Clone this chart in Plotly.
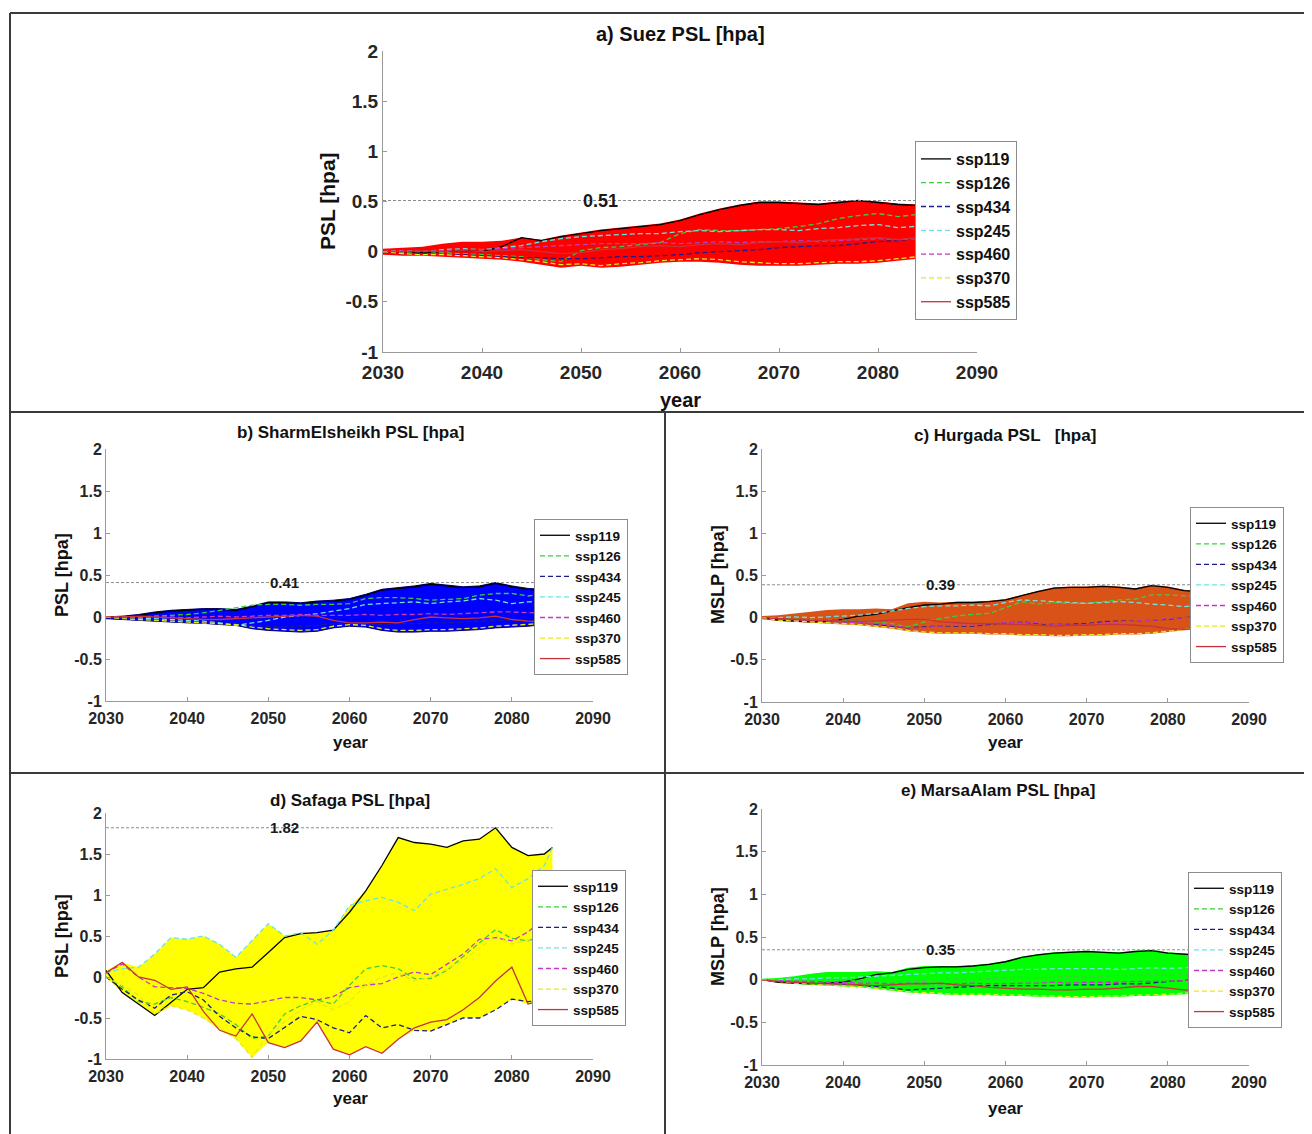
import plotly.graph_objects as go

# ---------------- data ----------------
years = [2030, 2032, 2034, 2036, 2038, 2040, 2042, 2044, 2046, 2048, 2050, 2052, 2054, 2056,
         2058, 2060, 2062, 2064, 2066, 2068, 2070, 2072, 2074, 2076, 2078, 2080, 2082, 2084, 2085]
scenarios = ["ssp119", "ssp126", "ssp434", "ssp245", "ssp460", "ssp370", "ssp585"]
x_ticks = [2030, 2040, 2050, 2060, 2070, 2080, 2090]
y_ticks = [-1, -0.5, 0, 0.5, 1, 1.5, 2]
y_tick_labels = ["-1", "-0.5", "0", "0.5", "1", "1.5", "2"]

# a) Suez
suez_ssp119 = [0.00, 0.00, -0.01, 0.00, 0.01, 0.00, 0.05, 0.14, 0.11, 0.15, 0.18, 0.21, 0.23, 0.25, 0.27, 0.31, 0.37, 0.42, 0.46, 0.49, 0.49, 0.48, 0.47, 0.49, 0.51, 0.49, 0.47, 0.46, 0.44]
suez_ssp126 = [0.00, -0.01, -0.02, -0.01, -0.02, -0.03, -0.04, -0.05, -0.08, -0.10, 0.01, 0.04, 0.05, 0.07, 0.09, 0.18, 0.22, 0.21, 0.21, 0.22, 0.23, 0.25, 0.28, 0.33, 0.36, 0.38, 0.35, 0.37, 0.39]
suez_ssp434 = [0.00, -0.02, -0.02, -0.03, -0.03, -0.04, -0.05, -0.06, -0.06, -0.07, -0.07, -0.06, -0.05, -0.05, -0.04, -0.03, -0.01, 0.00, 0.01, 0.02, 0.04, 0.05, 0.06, 0.06, 0.08, 0.10, 0.11, 0.13, 0.15]
suez_ssp245 = [0.00, 0.01, 0.00, 0.02, 0.03, 0.02, 0.04, 0.06, 0.10, 0.13, 0.15, 0.16, 0.17, 0.18, 0.18, 0.20, 0.21, 0.20, 0.21, 0.22, 0.22, 0.21, 0.23, 0.24, 0.26, 0.27, 0.24, 0.25, 0.26]
suez_ssp460 = [0.00, 0.01, 0.00, 0.01, 0.02, 0.02, 0.03, 0.04, 0.05, 0.06, 0.07, 0.08, 0.08, 0.08, 0.09, 0.08, 0.09, 0.10, 0.09, 0.10, 0.10, 0.11, 0.10, 0.11, 0.12, 0.13, 0.12, 0.13, 0.13]
suez_ssp370 = [0.00, -0.02, -0.03, -0.03, -0.04, -0.05, -0.06, -0.08, -0.10, -0.13, -0.12, -0.14, -0.12, -0.11, -0.09, -0.08, -0.07, -0.08, -0.10, -0.11, -0.12, -0.12, -0.11, -0.10, -0.10, -0.09, -0.07, -0.05, -0.02]
suez_ssp585 = [0.00, 0.00, 0.01, 0.00, 0.01, 0.00, 0.01, 0.02, 0.00, -0.02, -0.01, 0.02, 0.03, 0.05, 0.06, 0.05, 0.07, 0.08, 0.07, 0.09, 0.10, 0.09, 0.11, 0.12, 0.13, 0.14, 0.12, 0.14, 0.15]
suez_env_hi = [0.03, 0.04, 0.05, 0.08, 0.10, 0.10, 0.11, 0.14, 0.12, 0.16, 0.19, 0.22, 0.24, 0.26, 0.28, 0.32, 0.38, 0.43, 0.47, 0.50, 0.50, 0.49, 0.48, 0.50, 0.51, 0.50, 0.48, 0.47, 0.45]
suez_env_lo = [-0.03, -0.04, -0.04, -0.05, -0.06, -0.07, -0.08, -0.10, -0.13, -0.16, -0.14, -0.16, -0.15, -0.13, -0.11, -0.10, -0.10, -0.11, -0.13, -0.14, -0.14, -0.14, -0.13, -0.12, -0.12, -0.11, -0.09, -0.07, -0.03]

# b) SharmElsheikh
sharm_ssp119 = [0.00, 0.00, 0.02, 0.05, 0.07, 0.08, 0.09, 0.09, 0.08, 0.12, 0.17, 0.17, 0.16, 0.18, 0.19, 0.21, 0.26, 0.32, 0.34, 0.36, 0.39, 0.37, 0.35, 0.36, 0.40, 0.36, 0.33, 0.32, 0.33]
sharm_ssp126 = [0.00, 0.01, 0.00, 0.01, 0.02, 0.03, 0.05, 0.08, 0.11, 0.14, 0.15, 0.15, 0.14, 0.15, 0.15, 0.16, 0.22, 0.23, 0.23, 0.22, 0.20, 0.21, 0.22, 0.26, 0.28, 0.28, 0.25, 0.28, 0.30]
sharm_ssp434 = [0.00, -0.01, -0.02, -0.03, -0.04, -0.05, -0.06, -0.07, -0.08, -0.10, -0.11, -0.12, -0.11, -0.10, -0.08, -0.07, -0.08, -0.09, -0.08, -0.08, -0.07, -0.07, -0.06, -0.05, -0.04, -0.04, -0.04, -0.04, -0.03]
sharm_ssp245 = [0.00, 0.00, -0.01, -0.02, -0.03, -0.04, -0.05, -0.07, -0.10, -0.07, -0.04, 0.00, 0.02, 0.04, 0.07, 0.10, 0.15, 0.16, 0.17, 0.18, 0.16, 0.18, 0.19, 0.22, 0.20, 0.16, 0.18, 0.19, 0.19]
sharm_ssp460 = [0.00, 0.00, -0.01, 0.00, 0.00, -0.01, 0.00, 0.01, 0.00, 0.01, 0.02, 0.02, 0.03, 0.02, 0.02, 0.02, 0.03, 0.02, 0.03, 0.03, 0.04, 0.03, 0.04, 0.05, 0.06, 0.06, 0.05, 0.04, 0.04]
sharm_ssp370 = [0.00, -0.02, -0.03, -0.04, -0.05, -0.06, -0.07, -0.08, -0.09, -0.12, -0.14, -0.15, -0.16, -0.15, -0.11, -0.09, -0.10, -0.14, -0.16, -0.16, -0.15, -0.15, -0.14, -0.13, -0.11, -0.10, -0.09, -0.08, -0.07]
sharm_ssp585 = [0.00, 0.00, 0.01, 0.00, -0.01, -0.02, -0.03, -0.03, -0.02, -0.01, 0.00, 0.01, 0.02, 0.01, -0.04, -0.07, -0.07, -0.06, -0.07, -0.03, 0.00, -0.01, -0.02, -0.01, 0.01, -0.03, -0.05, -0.06, -0.06]
sharm_env_hi = [0.00, 0.01, 0.03, 0.06, 0.08, 0.09, 0.10, 0.10, 0.09, 0.13, 0.18, 0.18, 0.17, 0.19, 0.20, 0.22, 0.27, 0.33, 0.35, 0.37, 0.40, 0.38, 0.36, 0.37, 0.41, 0.37, 0.34, 0.33, 0.34]
sharm_env_lo = [-0.02, -0.03, -0.04, -0.05, -0.06, -0.07, -0.075, -0.09, -0.10, -0.14, -0.16, -0.17, -0.18, -0.17, -0.13, -0.11, -0.12, -0.16, -0.18, -0.18, -0.17, -0.17, -0.16, -0.15, -0.13, -0.12, -0.11, -0.09, -0.08]

# c) Hurgada
hurg_ssp119 = [0.00, -0.03, -0.04, -0.05, -0.04, -0.02, 0.02, 0.04, 0.08, 0.12, 0.15, 0.16, 0.18, 0.18, 0.19, 0.21, 0.26, 0.31, 0.35, 0.36, 0.36, 0.37, 0.36, 0.34, 0.38, 0.36, 0.32, 0.31, 0.32]
hurg_ssp126 = [0.00, -0.01, -0.02, -0.02, -0.03, -0.03, -0.04, -0.05, -0.07, -0.11, -0.05, -0.01, 0.02, 0.04, 0.05, 0.12, 0.19, 0.16, 0.18, 0.17, 0.17, 0.19, 0.21, 0.22, 0.27, 0.27, 0.26, 0.25, 0.26]
hurg_ssp434 = [0.00, -0.02, -0.03, -0.04, -0.05, -0.05, -0.06, -0.08, -0.10, -0.12, -0.11, -0.10, -0.10, -0.10, -0.08, -0.06, -0.05, -0.07, -0.08, -0.08, -0.07, -0.05, -0.04, -0.04, -0.03, -0.02, 0.00, 0.02, 0.04]
hurg_ssp245 = [0.00, 0.00, 0.01, 0.00, 0.01, 0.02, 0.03, 0.05, 0.08, 0.11, 0.13, 0.14, 0.14, 0.15, 0.14, 0.18, 0.21, 0.20, 0.19, 0.18, 0.17, 0.18, 0.19, 0.18, 0.16, 0.15, 0.13, 0.15, 0.17]
hurg_ssp460 = [0.00, -0.01, -0.03, -0.04, -0.04, -0.05, -0.06, -0.07, -0.09, -0.12, -0.12, -0.10, -0.09, -0.09, -0.07, -0.06, -0.05, -0.06, -0.08, -0.09, -0.08, -0.06, -0.05, -0.04, -0.03, -0.01, 0.00, 0.02, 0.03]
hurg_ssp370 = [0.00, -0.03, -0.04, -0.05, -0.06, -0.07, -0.08, -0.10, -0.12, -0.15, -0.17, -0.18, -0.18, -0.18, -0.19, -0.19, -0.20, -0.20, -0.21, -0.21, -0.20, -0.20, -0.19, -0.19, -0.18, -0.16, -0.14, -0.13, -0.13]
hurg_ssp585 = [0.00, -0.01, -0.02, -0.03, -0.03, -0.04, -0.04, -0.04, -0.03, -0.02, -0.02, -0.05, -0.06, -0.07, -0.07, -0.08, -0.08, -0.09, -0.10, -0.09, -0.09, -0.08, -0.08, -0.09, -0.10, -0.13, -0.14, -0.13, -0.12]
hurg_env_hi = [0.02, 0.03, 0.05, 0.07, 0.09, 0.10, 0.10, 0.11, 0.10, 0.17, 0.19, 0.18, 0.19, 0.19, 0.20, 0.22, 0.27, 0.32, 0.36, 0.37, 0.37, 0.38, 0.37, 0.35, 0.39, 0.37, 0.33, 0.32, 0.33]
hurg_env_lo = [-0.02, -0.04, -0.05, -0.06, -0.07, -0.08, -0.09, -0.11, -0.13, -0.16, -0.18, -0.19, -0.19, -0.19, -0.20, -0.20, -0.21, -0.21, -0.22, -0.22, -0.21, -0.21, -0.20, -0.20, -0.19, -0.17, -0.15, -0.14, -0.14]

# d) Safaga
saf_ssp119 = [0.08, -0.19, -0.33, -0.47, -0.31, -0.15, -0.13, 0.06, 0.10, 0.12, 0.30, 0.48, 0.53, 0.54, 0.57, 0.79, 1.05, 1.36, 1.70, 1.64, 1.62, 1.58, 1.66, 1.68, 1.82, 1.58, 1.48, 1.50, 1.58]
saf_ssp126 = [0.00, -0.12, -0.30, -0.33, -0.25, -0.30, -0.37, -0.45, -0.58, -0.75, -0.72, -0.45, -0.35, -0.28, -0.33, -0.10, 0.10, 0.14, 0.10, -0.02, -0.02, 0.08, 0.25, 0.42, 0.58, 0.47, 0.44, 0.52, 0.62]
saf_ssp434 = [0.00, -0.15, -0.28, -0.38, -0.22, -0.18, -0.28, -0.48, -0.62, -0.73, -0.75, -0.62, -0.48, -0.52, -0.62, -0.68, -0.47, -0.62, -0.58, -0.65, -0.66, -0.58, -0.50, -0.50, -0.40, -0.27, -0.30, -0.29, -0.27]
saf_ssp245 = [0.05, 0.10, 0.12, 0.28, 0.48, 0.46, 0.50, 0.40, 0.24, 0.44, 0.65, 0.50, 0.54, 0.40, 0.57, 0.87, 0.93, 0.97, 0.91, 0.81, 1.01, 1.07, 1.13, 1.20, 1.32, 1.09, 1.20, 1.36, 1.58]
saf_ssp460 = [0.05, 0.16, 0.00, -0.12, -0.13, -0.14, -0.20, -0.28, -0.32, -0.33, -0.29, -0.25, -0.25, -0.28, -0.24, -0.13, -0.10, -0.08, 0.00, 0.06, 0.03, 0.16, 0.28, 0.46, 0.48, 0.44, 0.55, 0.72, 0.65]
saf_ssp370 = [0.00, -0.10, -0.22, -0.45, -0.35, -0.40, -0.50, -0.62, -0.75, -0.98, -0.70, -0.55, -0.40, -0.30, -0.40, -0.30, -0.10, 0.00, 0.05, -0.05, 0.00, 0.10, 0.20, 0.35, 0.50, 0.40, 0.45, 0.50, 0.55]
saf_ssp585 = [0.05, 0.18, 0.00, -0.04, -0.15, -0.12, -0.42, -0.65, -0.72, -0.45, -0.80, -0.86, -0.78, -0.55, -0.88, -0.95, -0.85, -0.93, -0.76, -0.62, -0.55, -0.52, -0.40, -0.25, -0.05, 0.12, -0.33, -0.28, -0.27]
saf_env_hi = None   # envelope = spread of the scenarios
saf_env_lo = None

# e) MarsaAlam
mars_ssp119 = [0.00, -0.03, -0.04, -0.05, -0.04, -0.03, 0.01, 0.06, 0.08, 0.12, 0.14, 0.15, 0.15, 0.16, 0.18, 0.21, 0.26, 0.29, 0.31, 0.32, 0.33, 0.32, 0.31, 0.33, 0.34, 0.31, 0.30, 0.29, 0.28]
mars_ssp126 = [0.00, -0.01, -0.01, 0.00, 0.01, 0.00, -0.01, -0.02, -0.03, -0.02, -0.01, 0.00, 0.01, 0.00, 0.01, 0.02, 0.03, 0.02, 0.03, 0.04, 0.03, 0.04, 0.05, 0.05, 0.06, 0.05, 0.06, 0.06, 0.07]
mars_ssp434 = [0.00, -0.02, -0.03, -0.04, -0.05, -0.06, -0.07, -0.08, -0.10, -0.12, -0.11, -0.10, -0.09, -0.08, -0.07, -0.07, -0.07, -0.07, -0.07, -0.06, -0.06, -0.06, -0.05, -0.05, -0.04, -0.02, -0.01, 0.01, 0.03]
mars_ssp245 = [0.00, 0.00, 0.01, 0.01, 0.02, 0.02, 0.03, 0.04, 0.05, 0.06, 0.07, 0.08, 0.08, 0.09, 0.10, 0.11, 0.12, 0.12, 0.13, 0.13, 0.13, 0.13, 0.12, 0.13, 0.14, 0.13, 0.14, 0.14, 0.15]
mars_ssp460 = [0.00, -0.01, -0.02, -0.02, -0.03, -0.03, -0.04, -0.04, -0.05, -0.04, -0.04, -0.05, -0.05, -0.04, -0.05, -0.05, -0.04, -0.04, -0.03, -0.04, -0.03, -0.03, -0.03, -0.02, -0.02, -0.02, -0.01, 0.00, 0.01]
mars_ssp370 = [0.00, -0.02, -0.04, -0.05, -0.06, -0.07, -0.08, -0.10, -0.12, -0.14, -0.15, -0.16, -0.17, -0.17, -0.17, -0.18, -0.18, -0.19, -0.19, -0.20, -0.20, -0.19, -0.19, -0.18, -0.18, -0.17, -0.16, -0.15, -0.14]
mars_ssp585 = [0.00, -0.02, -0.03, -0.04, -0.05, -0.05, -0.06, -0.07, -0.06, -0.05, -0.05, -0.04, -0.06, -0.07, -0.09, -0.10, -0.11, -0.11, -0.12, -0.12, -0.11, -0.11, -0.10, -0.08, -0.08, -0.10, -0.12, -0.14, -0.14]
mars_env_hi = [0.01, 0.02, 0.04, 0.07, 0.09, 0.09, 0.09, 0.10, 0.09, 0.14, 0.16, 0.16, 0.16, 0.17, 0.19, 0.22, 0.27, 0.30, 0.32, 0.33, 0.34, 0.33, 0.32, 0.34, 0.35, 0.32, 0.31, 0.30, 0.29]
mars_env_lo = [-0.01, -0.03, -0.05, -0.06, -0.07, -0.08, -0.09, -0.11, -0.13, -0.15, -0.16, -0.17, -0.18, -0.18, -0.18, -0.19, -0.19, -0.20, -0.20, -0.21, -0.21, -0.20, -0.20, -0.19, -0.19, -0.18, -0.17, -0.16, -0.15]

# ---------------- styling ----------------
W, H = 1312, 1134
OFF = 8   # page body margin of the html page
FONT = "Liberation Sans, Arial, sans-serif"
TXT = "#262626"
AXC = "#9a9a9a"

line_styles = {
    "ssp119": dict(color="#000000", dash="solid"),
    "ssp126": dict(color="#3ccf3c", dash="5px,3px"),
    "ssp434": dict(color="#1c1c8c", dash="5px,3px"),
    "ssp245": dict(color="#6fe3e3", dash="5px,3px"),
    "ssp460": dict(color="#c23bc2", dash="5px,3px"),
    "ssp370": dict(color="#e8e820", dash="5px,3px"),
    "ssp585": dict(color="#c8323c", dash="solid"),
}

panels = [
    dict(title="a) Suez PSL [hpa]", ylab="PSL [hpa]",
         series=[suez_ssp119, suez_ssp126, suez_ssp434, suez_ssp245, suez_ssp460, suez_ssp370, suez_ssp585],
         hi=suez_env_hi, lo=suez_env_lo, fill="#ff0000", edge=None,
         px=(383, 977), py=(51, 352), big=True,
         tpos=(680, 34), ylpos=(328, 201), xlpos=(680, 400), leg=(1017, 141)),
    dict(title="b) SharmElsheikh PSL [hpa]", ylab="PSL [hpa]",
         series=[sharm_ssp119, sharm_ssp126, sharm_ssp434, sharm_ssp245, sharm_ssp460, sharm_ssp370, sharm_ssp585],
         hi=sharm_env_hi, lo=sharm_env_lo, fill="#0000ff", edge="#00007a",
         px=(106, 593), py=(449, 701), big=False,
         tpos=(350, 433), ylpos=(62, 575), xlpos=(350, 742), leg=(628, 519)),
    dict(title="c) Hurgada PSL\u00a0\u00a0\u00a0[hpa]", ylab="MSLP [hpa]",
         series=[hurg_ssp119, hurg_ssp126, hurg_ssp434, hurg_ssp245, hurg_ssp460, hurg_ssp370, hurg_ssp585],
         hi=hurg_env_hi, lo=hurg_env_lo, fill="#d95319", edge=None,
         px=(762, 1249), py=(449, 702), big=False,
         tpos=(1005, 435), ylpos=(718, 575), xlpos=(1006, 742), leg=(1284, 507)),
    dict(title="d) Safaga PSL [hpa]", ylab="PSL [hpa]",
         series=[saf_ssp119, saf_ssp126, saf_ssp434, saf_ssp245, saf_ssp460, saf_ssp370, saf_ssp585],
         hi=saf_env_hi, lo=saf_env_lo, fill="#ffff00", edge=None,
         px=(106, 593), py=(813, 1059), big=False,
         tpos=(350, 800), ylpos=(62, 936), xlpos=(350, 1098), leg=(626, 870)),
    dict(title="e) MarsaAlam PSL [hpa]", ylab="MSLP [hpa]",
         series=[mars_ssp119, mars_ssp126, mars_ssp434, mars_ssp245, mars_ssp460, mars_ssp370, mars_ssp585],
         hi=mars_env_hi, lo=mars_env_lo, fill="#00ff00", edge=None,
         px=(762, 1249), py=(809, 1065), big=False,
         tpos=(998, 790), ylpos=(718, 937), xlpos=(1006, 1108), leg=(1282, 872)),
]


def fx(p):
    return (p - OFF) / W


def fy(p):
    return 1 - (p - OFF) / H


fig = go.Figure()
annotations = []
layout_extra = {}

for i, p in enumerate(panels):
    k = "" if i == 0 else str(i + 1)
    xa, ya = "x" + k, "y" + k
    legname = "legend" + k
    tick_size = 19 if p["big"] else 16
    leg_size = 16 if p["big"] else 13.5
    title_size = 20 if p["big"] else 17
    ylab_size = 21 if p["big"] else 18
    xlab_size = 20 if p["big"] else 17
    val_size = 18 if p["big"] else 15

    hi = p["hi"] if p["hi"] is not None else [max(v) for v in zip(*p["series"])]
    lo = p["lo"] if p["lo"] is not None else [min(v) for v in zip(*p["series"])]

    # envelope
    fig.add_trace(go.Scatter(
        x=years + years[::-1], y=hi + lo[::-1], xaxis=xa, yaxis=ya,
        fill="toself", fillcolor=p["fill"], mode="lines",
        line=dict(width=1 if p["edge"] else 0, color=p["edge"] or p["fill"]),
        showlegend=False, hoverinfo="skip"))

    # scenario lines
    for name, vals in zip(scenarios, p["series"]):
        st = line_styles[name]
        fig.add_trace(go.Scatter(
            x=years, y=vals, xaxis=xa, yaxis=ya, mode="lines", name=name,
            line=dict(color=st["color"], dash=st["dash"], width=1.3),
            legend=legname, showlegend=True))

    # maximum reference line and label
    peak = max(max(hi), max(max(s) for s in p["series"]))
    fig.add_trace(go.Scatter(
        x=[years[0], years[-1]], y=[peak, peak], xaxis=xa, yaxis=ya, mode="lines",
        line=dict(color="#8c8c8c", width=1, dash="3px,2px"), showlegend=False, hoverinfo="skip"))
    annotations.append(dict(x=2052, y=peak, xref=xa, yref=ya, text="%.2f" % peak,
                            xanchor="center", yanchor="middle", showarrow=False,
                            font=dict(family=FONT, size=val_size, color="#1a1a1a", weight="bold")))

    # axes
    axis_font = dict(family=FONT, size=tick_size, color=TXT, weight="bold")
    layout_extra["xaxis" + k] = dict(
        domain=[fx(p["px"][0]), fx(p["px"][1])], anchor=ya, range=[2030, 2090],
        tickvals=x_ticks, ticktext=[str(t) for t in x_ticks], ticks="inside", ticklen=4,
        tickcolor=AXC, showline=True, linecolor=AXC, linewidth=1, showgrid=False,
        zeroline=False, tickfont=axis_font, automargin=False, ticklabelstandoff=3)
    layout_extra["yaxis" + k] = dict(
        domain=[fy(p["py"][1]), fy(p["py"][0])], anchor=xa, range=[-1, 2],
        tickvals=y_ticks, ticktext=y_tick_labels, ticks="inside", ticklen=4,
        tickcolor=AXC, showline=True, linecolor=AXC, linewidth=1, showgrid=False,
        zeroline=False, tickfont=axis_font, automargin=False)

    # legend
    layout_extra[legname] = dict(
        x=fx(p["leg"][0]), y=fy(p["leg"][1]), xanchor="right", yanchor="top",
        xref="paper", yref="paper",
        bgcolor="white", bordercolor="#8c8c8c", borderwidth=1,
        font=dict(family=FONT, size=leg_size, color="#111111", weight="bold"),
        itemwidth=30, tracegroupgap=0, traceorder="normal")

    # titles
    annotations.append(dict(x=fx(p["tpos"][0]), y=fy(p["tpos"][1]), xref="paper", yref="paper",
                            text=p["title"], showarrow=False, xanchor="center", yanchor="middle",
                            font=dict(family=FONT, size=title_size, color="#111111", weight="bold")))
    annotations.append(dict(x=fx(p["ylpos"][0]), y=fy(p["ylpos"][1]), xref="paper", yref="paper",
                            text=p["ylab"], showarrow=False, textangle=-90,
                            xanchor="center", yanchor="middle",
                            font=dict(family=FONT, size=ylab_size, color="#111111", weight="bold")))
    annotations.append(dict(x=fx(p["xlpos"][0]), y=fy(p["xlpos"][1]), xref="paper", yref="paper",
                            text="year", showarrow=False, xanchor="center", yanchor="middle",
                            font=dict(family=FONT, size=xlab_size, color="#111111", weight="bold")))

# panel frame lines
frame = dict(color="#3a3a3a", width=2)
shapes = [
    dict(type="line", xref="paper", yref="paper", x0=fx(10), x1=1, y0=fy(13), y1=fy(13), line=frame),
    dict(type="line", xref="paper", yref="paper", x0=fx(10), x1=fx(10), y0=0, y1=fy(13), line=frame),
    dict(type="line", xref="paper", yref="paper", x0=fx(10), x1=1, y0=fy(412), y1=fy(412), line=frame),
    dict(type="line", xref="paper", yref="paper", x0=fx(10), x1=1, y0=fy(773), y1=fy(773), line=frame),
    dict(type="line", xref="paper", yref="paper", x0=fx(665), x1=fx(665), y0=0, y1=fy(412), line=frame),
]

fig.update_layout(
    template="none",
    width=W, height=H, autosize=False,
    margin=dict(l=0, r=0, t=0, b=0, pad=0, autoexpand=False),
    paper_bgcolor="white", plot_bgcolor="white",
    annotations=annotations, shapes=shapes,
    font=dict(family=FONT, color=TXT),
    **layout_extra)

fig.write_html("out.html")
